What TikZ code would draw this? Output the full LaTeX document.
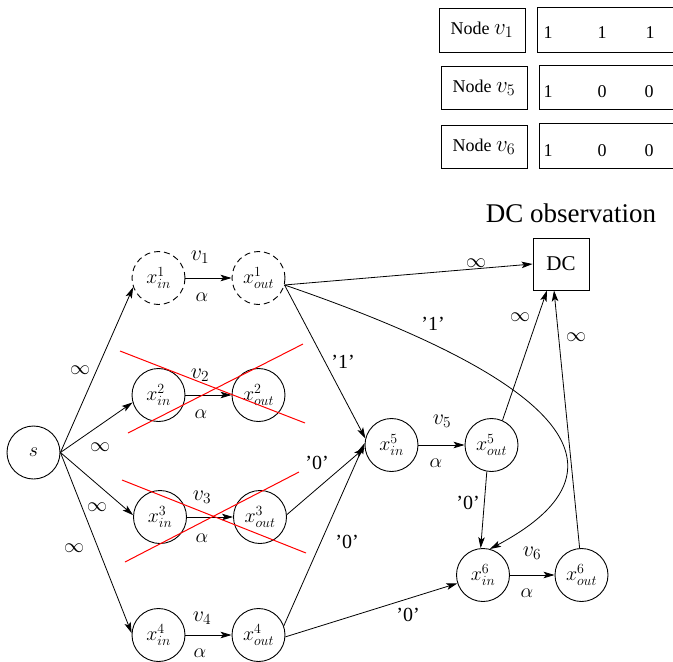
\RequirePackage{fix-cm}
\documentclass[tikz,border=0pt]{standalone}
\usepackage{fontspec}
\setmainfont{Liberation Serif}
\usetikzlibrary{arrows.meta}
\newcommand{\tblmath}[1]{{\fontsize{23}{24}\selectfont$#1$}}
\begin{document}
\begin{tikzpicture}[x=1pt,y=-1pt,
  every node/.style={font=\fontsize{18}{20}\selectfont},
  mth/.style={font=\fontsize{20}{22}\selectfont},
  vlab/.style={font=\fontsize{22}{24}\selectfont},
  vert/.style={circle,draw,line width=0.9pt,minimum size=53pt,inner sep=0pt,mth},
  dvert/.style={vert,dash pattern=on 6pt off 4pt},
  arr/.style={-{Stealth[length=11pt,width=6.5pt,inset=2.5pt]},line width=0.8pt},
  lab/.style={font=\fontsize{20}{22}\selectfont},
  cross/.style={red,line width=1pt},
  box/.style={draw,line width=0.9pt,inner sep=0pt}]
\useasboundingbox (0,0) rectangle (673,662);
\clip (0,0) rectangle (673,662);

% table
\node[box,minimum width=86pt,minimum height=44pt] (n1) at (482,30) {Node \tblmath{v_1}};
\node[box,minimum width=86pt,minimum height=43pt] (n5) at (484,87.5) {Node \tblmath{v_5}};
\node[box,minimum width=86pt,minimum height=43pt] (n6) at (484,146.5) {Node \tblmath{v_6}};
\node[box,anchor=west,minimum width=200pt,minimum height=45pt] (r1) at (537,29.5) {};
\node[box,anchor=west,minimum width=200pt,minimum height=44pt] (r5) at (539,87) {};
\node[box,anchor=west,minimum width=200pt,minimum height=45pt] (r6) at (539,145.5) {};
\node (d11) at (548,33) {1};
\node (d12) at (602,33) {1};
\node (d13) at (650,33) {1};
\node (d51) at (548,92) {1};
\node (d52) at (602,92) {0};
\node (d53) at (649,92) {0};
\node (d61) at (548,151) {1};
\node (d62) at (602,151) {0};
\node (d63) at (649,151) {0};

\node[font=\fontsize{27}{30}\selectfont] (obs) at (571,213) {DC observation};
\node[box,minimum width=56pt,minimum height=52pt,font=\fontsize{21}{24}\selectfont] (dc) at (561,264) {DC};

% vertices
\node[vert] (s) at (33.5,452.5) {$s$};
\node[dvert] (xin1) at (158.5,278) {$x^1_{in}$};
\node[dvert] (xout1) at (258.5,278) {$x^1_{out}$};
\node[vert] (xin2) at (158.5,395) {$x^2_{in}$};
\node[vert] (xout2) at (258.5,395) {$x^2_{out}$};
\node[vert] (xin3) at (160,517) {$x^3_{in}$};
\node[vert] (xout3) at (260,517) {$x^3_{out}$};
\node[vert] (xin4) at (158.5,635) {$x^4_{in}$};
\node[vert] (xout4) at (258.5,635) {$x^4_{out}$};
\node[vert] (xin5) at (391.5,445) {$x^5_{in}$};
\node[vert] (xout5) at (491.5,445) {$x^5_{out}$};
\node[vert] (xin6) at (483,575) {$x^6_{in}$};
\node[vert] (xout6) at (581.5,575) {$x^6_{out}$};

% edges from s
\draw[arr] (s.east) -- (xin1.200);
\draw[arr] (s.east) -- (xin2.196);
\draw[arr] (s.east) -- (xin3.176);
\draw[arr] (s.east) -- (xin4.176);
\node[lab] (ls1) at (80,370) {$\infty$};
\node[lab] (ls2) at (100,447) {$\infty$};
\node[lab] (ls3) at (97,507) {$\infty$};
\node[lab] (ls4) at (74,548) {$\infty$};

% in -> out
\draw[arr] (xin1.east) -- (xout1.west);
\draw[arr] (xin2.east) -- (xout2.west);
\draw[arr] (xin3.east) -- (xout3.west);
\draw[arr] (xin4.east) -- (xout4.west);
\draw[arr] (xin5.east) -- (xout5.west);
\draw[arr] (xin6.east) -- (xout6.west);
\node[vlab] (v1) at (200,257) {$v_1$};
\node[mth] (a1) at (202,297) {$\alpha$};
\node[vlab] (v2) at (200,375) {$v_2$};
\node[mth] (a2) at (201,414) {$\alpha$};
\node[vlab] (v3) at (202,497) {$v_3$};
\node[mth] (a3) at (202,538) {$\alpha$};
\node[vlab] (v4) at (202,618) {$v_4$};
\node[mth] (a4) at (200,653) {$\alpha$};
\node[vlab] (v5) at (442,421) {$v_5$};
\node[mth] (a5) at (436,463) {$\alpha$};
\node[vlab] (v6) at (532,553) {$v_6$};
\node[mth] (a6) at (527,593) {$\alpha$};

% from xout1
\draw[arr] (xout1.-15) -- (dc.west);
\draw[arr] (xout1.-15) -- (xin5.166);
\draw[arr] (xout1.-15) .. controls (471,349) and (680,448) .. (xin6.75);
\node[lab] (l11) at (476,263) {$\infty$};
\node[lab] (l12) at (343,362) {'1'};
\node[lab] (l13) at (433,324) {'1'};

% into xin5
\draw[arr] (xout3.5) -- (xin5.186);
\draw[arr] (xout4.20) -- (xin5.176);
\node[lab] (l3) at (317,463) {'0'};
\node[lab] (l4) at (347,542) {'0'};

% into xin6
\draw[arr] (xout4.-4) -- (xin6.198);
\draw[arr] (xout5.260) -- (xin6.95);
\node[lab] (l46) at (408,615) {'0'};
\node[lab] (l56) at (468,503) {'0'};

% into DC
\draw[arr] (xout5.66) -- ([xshift=-14pt]dc.south);
\draw[arr] (xout6.94) -- ([xshift=-7pt]dc.south);
\node[lab] (l5d) at (520,317) {$\infty$};
\node[lab] (l6d) at (576,337) {$\infty$};

% red crosses
\draw[cross] (120,351) -- (305,423);
\draw[cross] (128,433) -- (303,344);
\draw[cross] (122,480) -- (306,553);
\draw[cross] (125,562) -- (299,472);
\end{tikzpicture}
\end{document}
